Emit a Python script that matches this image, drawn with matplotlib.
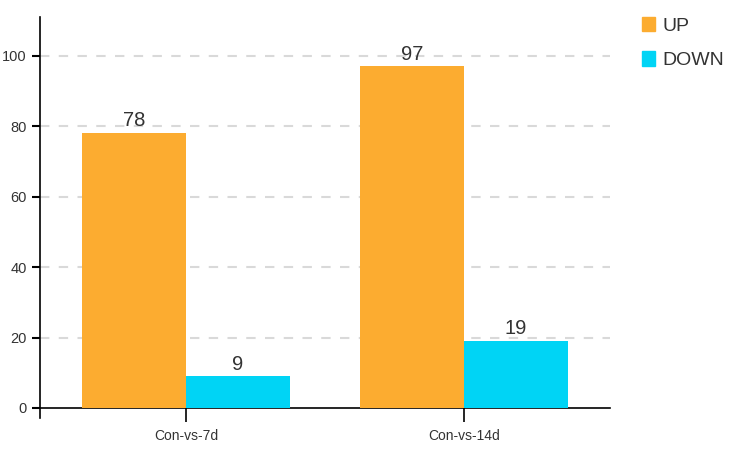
import matplotlib.pyplot as plt
from matplotlib.patches import Patch

plt.rcParams['font.family'] = ['Liberation Sans Narrow', 'Liberation Sans', 'DejaVu Sans']

# DATA
categories = ["Con-vs-7d", "Con-vs-14d"]
up_values = [78, 97]
down_values = [9, 19]
y_ticks = [0, 20, 40, 60, 80, 100]

UP_COLOR = "#FCAC30"
DOWN_COLOR = "#00D4F5"
TEXT_COLOR = "#333333"

W, H = 734, 455
fig = plt.figure(figsize=(W / 100, H / 100), dpi=100)
ax = fig.add_axes([40 / W, (H - 418) / H, 570 / W, 401 / H])

x = list(range(len(categories)))
width = 0.375
up_bars = ax.bar([i - width / 2 for i in x], up_values, width, color=UP_COLOR, zorder=3)
down_bars = ax.bar([i + width / 2 for i in x], down_values, width, color=DOWN_COLOR, zorder=3)

# value labels
for bars in (up_bars, down_bars):
    for b in bars:
        ax.annotate(f"{int(b.get_height())}", (b.get_x() + b.get_width() / 2, b.get_height()),
                    xytext=(0, 2), textcoords="offset points", ha="center", va="bottom",
                    fontsize=14.5, color=TEXT_COLOR)

ax.set_xlim(-0.525, 1.525)
ax.set_ylim(-2.84, 111)
ax.set_yticks(y_ticks)
ax.set_xticks(x)
ax.set_xticklabels(categories)

for t in y_ticks[1:]:
    ax.axhline(t, color="#d9d9d9", linewidth=1.5, linestyle=(0, (4.5, 4.5)), zorder=1)

ax.spines["top"].set_visible(False)
ax.spines["right"].set_visible(False)
ax.spines["bottom"].set_position(("data", 0))
ax.spines["left"].set_linewidth(1.2)
ax.spines["bottom"].set_linewidth(1.2)

ax.tick_params(axis="y", length=6, width=1.5, pad=3.5, labelsize=10.5, labelcolor=TEXT_COLOR)
ax.tick_params(axis="x", length=10, width=1.2, pad=5, labelsize=10, labelcolor=TEXT_COLOR)

# legend
handles = [Patch(color=UP_COLOR, label="UP"), Patch(color=DOWN_COLOR, label="DOWN")]
fig.legend(handles=handles, loc="upper left", bbox_to_anchor=(642 / W, (H - 17) / H),
           frameon=False, fontsize=14, handlelength=0.65, handleheight=0.75,
           handletextpad=0.4, labelspacing=0.85, borderpad=0, borderaxespad=0,
           labelcolor=TEXT_COLOR)

fig.savefig("out.png", dpi=100)
